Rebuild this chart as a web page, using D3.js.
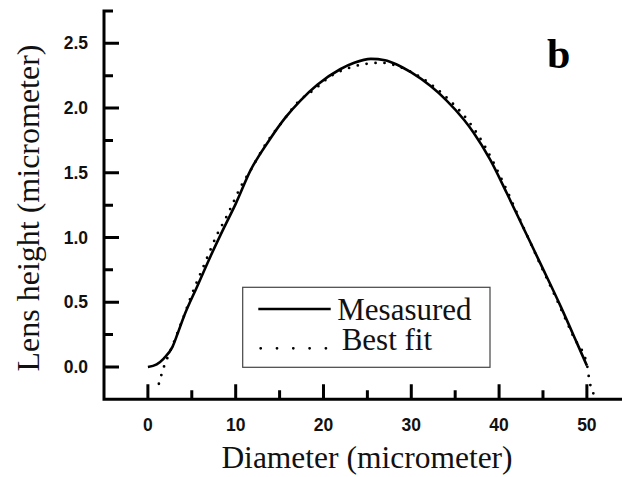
<!DOCTYPE html>
<html><head><meta charset="utf-8">
<script src="https://cdn.jsdelivr.net/npm/d3@7"></script>
<style>body{margin:0;background:#fff}svg{display:block}</style>
</head><body>
<svg id="chart" width="622" height="477"></svg>
<script>
// Measured profile
const measuredX = [0, 1, 1.8, 2.8, 3.4, 4.1, 5.6, 7.1, 8.7, 10, 11.7, 13.8, 15.7, 17.4, 19.3, 21.9, 23.5, 25.4, 27, 28.4, 30, 32.2, 34, 36, 37.1, 39, 40.9, 42.8, 44.7, 47, 48.9, 50];
const measuredY = [0, 0.02, 0.065, 0.155, 0.26, 0.39, 0.62, 0.85, 1.08, 1.26, 1.52, 1.75, 1.93, 2.06, 2.18, 2.30, 2.35, 2.38, 2.37, 2.335, 2.275, 2.17, 2.06, 1.91, 1.81, 1.60, 1.34, 1.07, 0.80, 0.47, 0.18, 0.01];
// Best fit
const fitX = [1.25, 1.82, 2.6, 3.35, 4.03, 4.75, 5.47, 6.26, 7.03, 7.86, 8.8, 9.7, 10.6, 11.7, 13.5, 15.5, 17.0, 19.0, 20.9, 22.9, 24.7, 26.6, 28.6, 30.5, 32.5, 34.5, 36.5, 38.5, 40.5, 42.5, 44.5, 46.5, 48.5, 50.0, 50.3, 51.0];
const fitY = [-0.13, 0.0, 0.13, 0.26, 0.38, 0.515, 0.64, 0.765, 0.89, 1.02, 1.14, 1.267, 1.396, 1.52, 1.73, 1.91, 2.04, 2.146, 2.25, 2.31, 2.34, 2.35, 2.32, 2.26, 2.17, 2.05, 1.90, 1.69, 1.42, 1.12, 0.82, 0.53, 0.23, 0.02, -0.11, -0.23];
// Ticks
const xMajor = [0, 10, 20, 30, 40, 50];
const xMinor = [5, 15, 25, 35, 45];
const yMajor = [0.0, 0.5, 1.0, 1.5, 2.0, 2.5];
const yMinor = [0.25, 0.75, 1.25, 1.75, 2.25, 2.75];
const seriesNames = ["Mesasured", "Best fit"];
const xTitle = "Diameter (micrometer)";
const yTitle = "Lens height (micrometer)";
const panelLabel = "b";

const svg = d3.select("#chart");
const x = d3.scaleLinear().domain([-5, 54]).range([104, 622]);
const y = d3.scaleLinear().domain([-0.25, 2.75]).range([399.3, 11]);

const axisW = 3;
const serif = "'Liberation Serif', 'Times New Roman', serif";
const sans = "'Liberation Sans', Arial, sans-serif";
const x0 = x.range()[0], yb = y.range()[0];

// Axis frame + inward ticks in one path
const p = d3.path();
p.moveTo(x0, y(2.75) - 1.5); p.lineTo(x0, yb); p.lineTo(x.range()[1], yb);
xMajor.forEach(v => { p.moveTo(x(v), yb); p.lineTo(x(v), yb - 15); });
xMinor.forEach(v => { p.moveTo(x(v), yb); p.lineTo(x(v), yb - 9); });
yMajor.forEach(v => { p.moveTo(x0, y(v)); p.lineTo(x0 + 15, y(v)); });
yMinor.forEach(v => { p.moveTo(x0, y(v)); p.lineTo(x0 + 9, y(v)); });
svg.append("path").attr("d", p.toString())
  .attr("fill", "none").attr("stroke", "#000").attr("stroke-width", axisW);

svg.selectAll("text.xl").data(xMajor).join("text").attr("class", "xl")
  .attr("x", d => x(d)).attr("y", 430.5).attr("text-anchor", "middle")
  .attr("font-family", sans).attr("font-weight", "bold").attr("font-size", 17.5).attr("fill", "#111")
  .text(d3.format("d"));
svg.selectAll("text.yl").data(yMajor).join("text").attr("class", "yl")
  .attr("x", 88).attr("y", d => y(d) + 6).attr("text-anchor", "end")
  .attr("font-family", sans).attr("font-weight", "bold").attr("font-size", 17.5).attr("fill", "#111")
  .text(d3.format(".1f"));

// Lines
const measured = measuredX.map((v, i) => [v, measuredY[i]]);
const fit = fitX.map((v, i) => [v, fitY[i]]);
const line = d3.line().x(d => x(d[0])).y(d => y(d[1])).curve(d3.curveMonotoneX);

svg.append("path").datum(fit).attr("d", line).attr("fill", "none")
  .attr("stroke", "#000").attr("stroke-width", 2.8).attr("stroke-linecap", "round")
  .attr("stroke-dasharray", "0,9");
svg.append("path").datum(measured).attr("d", line).attr("fill", "none")
  .attr("stroke", "#000").attr("stroke-width", 2.6).attr("stroke-linejoin", "round");

// Legend
svg.append("rect").attr("x", 242.7).attr("y", 287.3).attr("width", 247.3).attr("height", 80)
  .attr("fill", "#fff").attr("stroke", "#444").attr("stroke-width", 1.2);
svg.append("path").attr("d", "M258.3,309H330.7")
  .attr("stroke", "#000").attr("stroke-width", 2.6);
svg.append("path").attr("d", "M260.7,348.3H330")
  .attr("stroke", "#000").attr("stroke-width", 2.8).attr("stroke-linecap", "round").attr("stroke-dasharray", "0,16.3");
svg.append("text").attr("x", 337.3).attr("y", 320).text(seriesNames[0])
  .attr("font-family", serif).attr("font-size", 31).attr("fill", "#111");
svg.append("text").attr("x", 341.7).attr("y", 350).text(seriesNames[1])
  .attr("font-family", serif).attr("font-size", 31).attr("fill", "#111");

// Titles
svg.append("text").attr("x", 367).attr("y", 468).attr("text-anchor", "middle").text(xTitle)
  .attr("font-family", serif).attr("font-size", 31.5).attr("fill", "#111");
svg.append("text").attr("transform", `translate(39,${208}) rotate(-90)`).attr("text-anchor", "middle").text(yTitle)
  .attr("font-family", serif).attr("font-size", 32).attr("fill", "#111");
svg.append("text").attr("x", 547).attr("y", 68).text(panelLabel)
  .attr("font-family", serif).attr("font-weight", "bold")
  .attr("font-size", 42).attr("fill", "#000");
</script>
</body></html>
